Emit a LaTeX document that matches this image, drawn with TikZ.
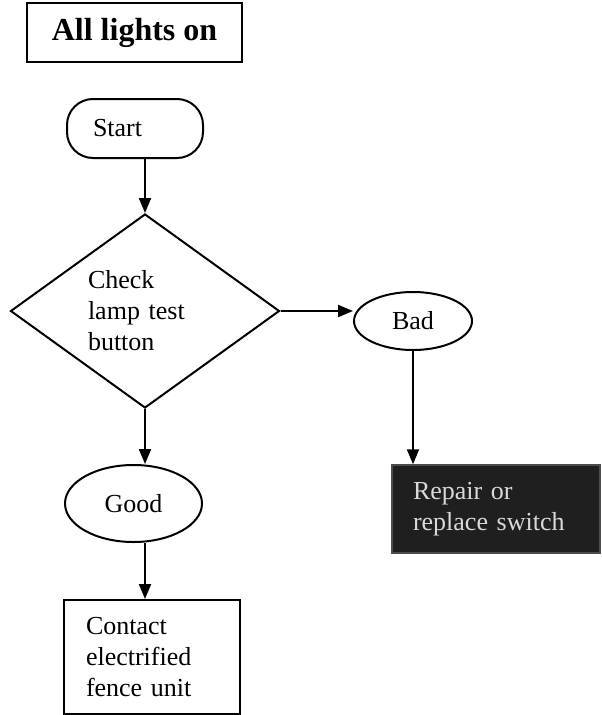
\documentclass[tikz,border=0pt]{standalone}
\usepackage{fontspec}
\setmainfont{Liberation Serif}
\usetikzlibrary{shapes.geometric,arrows.meta}

\tikzset{
  line/.style={line width=2pt},
  flow/.style={line, -{Triangle[length=15pt,width=12pt]}},
  body/.style={font=\fontsize{26}{31}\selectfont},
  outline/.style={draw, line width=2pt, inner sep=0pt, body},
}

\begin{document}
\begin{tikzpicture}[x=1pt,y=-1pt]
  \useasboundingbox (0,0) rectangle (602,715);

  % heading
  \node[draw, line width=2.2pt, minimum width=215pt, minimum height=59pt,
        font=\fontsize{32}{36}\selectfont\bfseries] (title) at (134.5,32.5) {All lights on};

  % terminal
  \node[outline, rounded corners=26pt, minimum width=136pt, minimum height=59pt,
        text width=84pt, align=left] (start) at (135,128.5) {Start};

  % decision
  \node[outline, diamond, shape aspect=1.4, minimum width=269pt, minimum height=194pt,
        text width=114pt, align=left] (check) at (145,311) {Check\\lamp test\\button};

  % outcomes
  \node[outline, ellipse, minimum width=118pt, minimum height=58pt] (bad) at (413,321) {Bad};
  \node[outline, ellipse, minimum width=137pt, minimum height=77pt] (good) at (133.5,503.5) {Good};

  % actions
  \node[draw=black!70, fill=black!88, line width=1.5pt, inner sep=0pt, body,
        text=white!85!black, minimum width=208pt, minimum height=88pt,
        text width=166pt, align=left] (repair) at (496,509) {Repair or\\replace switch};
  \node[outline, minimum width=176pt, minimum height=114pt,
        text width=132pt, align=left] (contact) at (152,657) {Contact\\electrified\\fence unit};

  % connectors
  \draw[flow] (start.south -| check.north) -- (check.north);
  \draw[flow] (check.east) -- (check.east -| bad.west);
  \draw[flow] (bad.south) -- (bad.south |- repair.north);
  \draw[flow] (check.south) -- (check.south |- good.north);
  \draw[flow] (good.south -| check.south) -- (check.south |- contact.north);
\end{tikzpicture}
\end{document}
